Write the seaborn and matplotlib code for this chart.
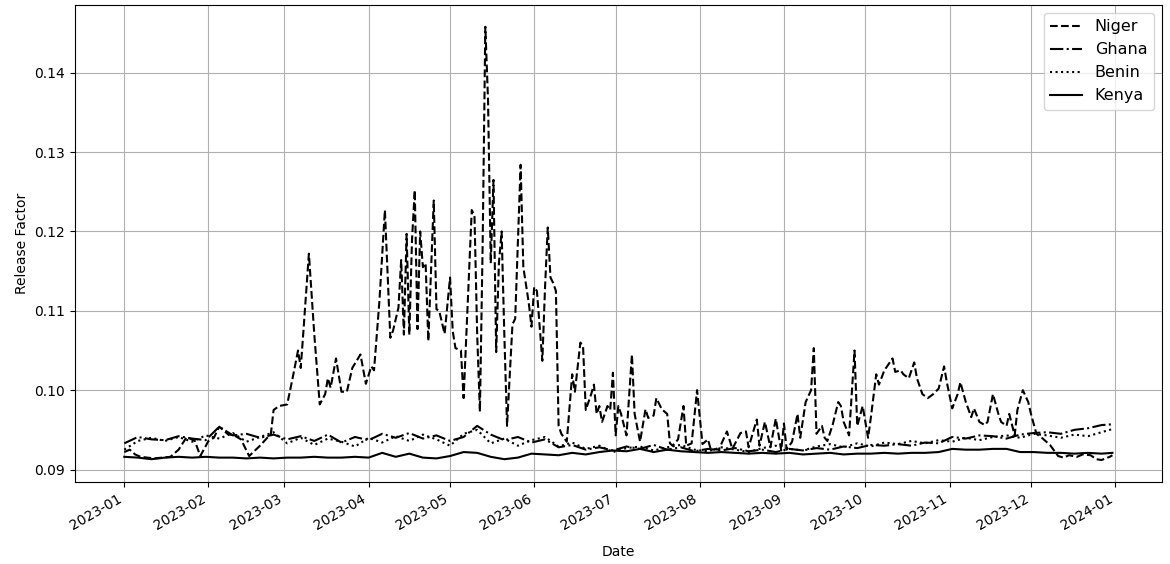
import matplotlib
matplotlib.use("Agg")
import matplotlib.pyplot as plt
import matplotlib.dates as mdates
import seaborn as sns
import pandas as pd

countries = ["Niger", "Ghana", "Benin", "Kenya"]

# Niger: day of year (from 2023-01-01) and value
niger_day = [0, 2, 4, 6, 11, 17, 20, 23, 26, 28, 31, 33, 35, 38, 41, 43, 46, 50, 54, 55,
             57, 60, 62, 64, 65, 66, 68, 70, 72, 74, 75, 76, 78, 80, 82, 84, 87, 89, 91, 92,
             94, 96, 98, 99, 101, 102, 103, 104, 105, 106, 107, 108, 109, 110, 111, 112, 114, 115, 116, 118,
             120, 121, 122, 124, 125, 126, 128, 129, 130, 131, 132, 133, 134, 135, 136, 137, 138, 139, 140, 141,
             143, 144, 146, 147, 149, 150, 151, 152, 154, 155, 156, 157, 158, 159, 160, 161, 163, 165, 166, 168,
             169, 170, 172, 173, 174, 175, 176, 178, 179, 180, 181, 182, 183, 185, 187, 188, 190, 192, 193, 195,
             196, 198, 200, 201, 202, 204, 206, 207, 209, 211, 213, 215, 216, 219, 222, 224, 227, 229, 230, 233,
             234, 236, 238, 240, 242, 243, 244, 246, 248, 249, 251, 253, 254, 255, 257, 258, 259, 261, 263, 264,
             265, 267, 269, 270, 272, 273, 274, 275, 277, 278, 280, 283, 284, 286, 287, 289, 291, 292, 294, 296,
             298, 300, 302, 303, 305, 307, 308, 310, 312, 313, 315, 317, 318, 320, 322, 323, 325, 326, 328, 329,
             331, 333, 334, 336, 338, 341, 344, 346, 348, 351, 353, 356, 358, 360, 363, 364]
niger_val = [0.0922, 0.0925, 0.0919, 0.0916, 0.0914, 0.0916, 0.0925, 0.0941, 0.0936, 0.0917,
             0.0936, 0.0940, 0.0954, 0.0945, 0.0942, 0.0938, 0.0917, 0.0930, 0.0945, 0.0975,
             0.0980, 0.0982, 0.1015, 0.1050, 0.1028, 0.1075, 0.1172, 0.1070, 0.0982, 0.0995,
             0.1015, 0.1003, 0.1040, 0.0998, 0.0998, 0.1028, 0.1045, 0.1008, 0.1030, 0.1025,
             0.1113, 0.1227, 0.1066, 0.1075, 0.1104, 0.1164, 0.1070, 0.1197, 0.1070, 0.1190,
             0.1252, 0.1077, 0.1200, 0.1155, 0.1160, 0.1062, 0.1239, 0.1102, 0.1100, 0.1071,
             0.1142, 0.1074, 0.1053, 0.1050, 0.0990, 0.1070, 0.1227, 0.1220, 0.1070, 0.0973,
             0.1180, 0.1458, 0.1365, 0.1160, 0.1265, 0.1048, 0.1160, 0.1200, 0.1070, 0.0955,
             0.1083, 0.1090, 0.1284, 0.1155, 0.1110, 0.1080, 0.1130, 0.1125, 0.1037, 0.1130,
             0.1205, 0.1142, 0.1135, 0.1125, 0.0955, 0.0945, 0.0935, 0.1020, 0.0998, 0.1060,
             0.1055, 0.0975, 0.0995, 0.1007, 0.0970, 0.0980, 0.0960, 0.0980, 0.0975, 0.1022,
             0.0943, 0.0980, 0.0970, 0.0943, 0.1045, 0.0970, 0.0935, 0.0976, 0.0965, 0.0968,
             0.0990, 0.0976, 0.0970, 0.0933, 0.0930, 0.0938, 0.0980, 0.0930, 0.0933, 0.1000,
             0.0932, 0.0938, 0.0926, 0.0925, 0.0948, 0.0926, 0.0946, 0.0948, 0.0928, 0.0963,
             0.0930, 0.0960, 0.0928, 0.0964, 0.0924, 0.0958, 0.0925, 0.0935, 0.0970, 0.0940,
             0.0985, 0.1000, 0.1053, 0.0945, 0.0955, 0.0940, 0.0936, 0.0957, 0.0985, 0.0980,
             0.0960, 0.0943, 0.1050, 0.0955, 0.0980, 0.0960, 0.0940, 0.0965, 0.1020, 0.1007,
             0.1025, 0.1040, 0.1023, 0.1025, 0.1020, 0.1015, 0.1035, 0.1015, 0.0995, 0.0990,
             0.0995, 0.1002, 0.1030, 0.1010, 0.0977, 0.0995, 0.1010, 0.0985, 0.0966, 0.0977,
             0.0960, 0.0956, 0.0960, 0.0995, 0.0970, 0.0960, 0.0955, 0.0970, 0.0943, 0.0975,
             0.1000, 0.0985, 0.0970, 0.0945, 0.0940, 0.0931, 0.0917, 0.0915, 0.0918, 0.0916,
             0.0919, 0.0918, 0.0913, 0.0912, 0.0916, 0.0918]

# the other three every 5 days (plus the last day)
step_day = list(range(0, 365, 5)) + [364]
ghana_val = [0.0933, 0.0941, 0.0938, 0.0937, 0.0942, 0.0939, 0.0937, 0.0954, 0.0943, 0.0945,
             0.0940, 0.0944, 0.0938, 0.0942, 0.0936, 0.0944, 0.0934, 0.0941, 0.0937, 0.0945,
             0.0940, 0.0946, 0.0939, 0.0943, 0.0936, 0.0941, 0.0955, 0.0944, 0.0937, 0.0941,
             0.0934, 0.0938, 0.0928, 0.0931, 0.0925, 0.0928, 0.0924, 0.0929, 0.0926, 0.0931,
             0.0925, 0.0928, 0.0923, 0.0926, 0.0924, 0.0927, 0.0923, 0.0925, 0.0922, 0.0926,
             0.0924, 0.0927, 0.0925, 0.0929, 0.0927, 0.0931, 0.0930, 0.0932, 0.0930, 0.0934,
             0.0933, 0.0941, 0.0939, 0.0943, 0.0942, 0.0939, 0.0944, 0.0946, 0.0947, 0.0945,
             0.0950, 0.0952, 0.0956, 0.0957]
benin_val = [0.0925, 0.0936, 0.0940, 0.0936, 0.0941, 0.0935, 0.0943, 0.0939, 0.0946, 0.0935,
             0.0941, 0.0947, 0.0933, 0.0940, 0.0931, 0.0939, 0.0935, 0.0929, 0.0940, 0.0934,
             0.0942, 0.0936, 0.0944, 0.0938, 0.0930, 0.0945, 0.0950, 0.0933, 0.0939, 0.0930,
             0.0937, 0.0941, 0.0929, 0.0934, 0.0926, 0.0930, 0.0922, 0.0927, 0.0929, 0.0924,
             0.0928, 0.0931, 0.0925, 0.0923, 0.0928, 0.0925, 0.0922, 0.0927, 0.0930, 0.0926,
             0.0924, 0.0929, 0.0932, 0.0928, 0.0933, 0.0929, 0.0934, 0.0932, 0.0936, 0.0933,
             0.0937, 0.0935, 0.0940, 0.0937, 0.0941, 0.0943, 0.0940, 0.0945, 0.0943, 0.0940,
             0.0944, 0.0942, 0.0947, 0.0951]
kenya_val = [0.0916, 0.0915, 0.0913, 0.0915, 0.0916, 0.0915, 0.0916, 0.0915, 0.0915, 0.0914,
             0.0915, 0.0914, 0.0915, 0.0915, 0.0916, 0.0915, 0.0915, 0.0916, 0.0915, 0.0921,
             0.0916, 0.0920, 0.0915, 0.0914, 0.0917, 0.0922, 0.0921, 0.0916, 0.0913, 0.0915,
             0.0920, 0.0919, 0.0918, 0.0921, 0.0919, 0.0922, 0.0924, 0.0923, 0.0926, 0.0922,
             0.0925, 0.0923, 0.0922, 0.0921, 0.0922, 0.0921, 0.0920, 0.0921, 0.0920, 0.0921,
             0.0919, 0.0920, 0.0921, 0.0919, 0.0920, 0.0920, 0.0921, 0.0920, 0.0921, 0.0921,
             0.0922, 0.0926, 0.0925, 0.0925, 0.0926, 0.0926, 0.0922, 0.0922, 0.0921, 0.0921,
             0.0920, 0.0921, 0.0920, 0.0921]

assert len(niger_day) == len(niger_val)

start = pd.Timestamp("2023-01-01")
frames = [pd.DataFrame({"Date": start + pd.to_timedelta(niger_day, unit="D"),
                        "Release Factor": niger_val, "country": "Niger"})]
for name, vals in [("Ghana", ghana_val), ("Benin", benin_val), ("Kenya", kenya_val)]:
    frames.append(pd.DataFrame({"Date": start + pd.to_timedelta(step_day, unit="D"),
                                "Release Factor": vals, "country": name}))
df = pd.concat(frames, ignore_index=True)

fig, ax = plt.subplots(figsize=(11.7, 5.64), dpi=100)
sns.lineplot(data=df, x="Date", y="Release Factor", hue="country", style="country",
             hue_order=countries, style_order=countries,
             palette={c: "black" for c in countries},
             dashes={"Niger": (3.7, 1.6), "Ghana": (6.4, 1.6, 1, 1.6),
                     "Benin": (1, 1.65), "Kenya": ""},
             linewidth=1.5, ax=ax)
ax.grid(True, color="#b0b0b0", linewidth=0.8)
ax.xaxis.set_major_locator(mdates.MonthLocator())
ax.xaxis.set_major_formatter(mdates.DateFormatter("%Y-%m"))
ax.set_xlabel("Date", labelpad=9)
sns.move_legend(ax, "upper right", title=None, fontsize=11.5)
fig.autofmt_xdate()
plt.subplots_adjust(left=0.064, right=0.993, top=0.991, bottom=0.146)
plt.savefig("out.png")
